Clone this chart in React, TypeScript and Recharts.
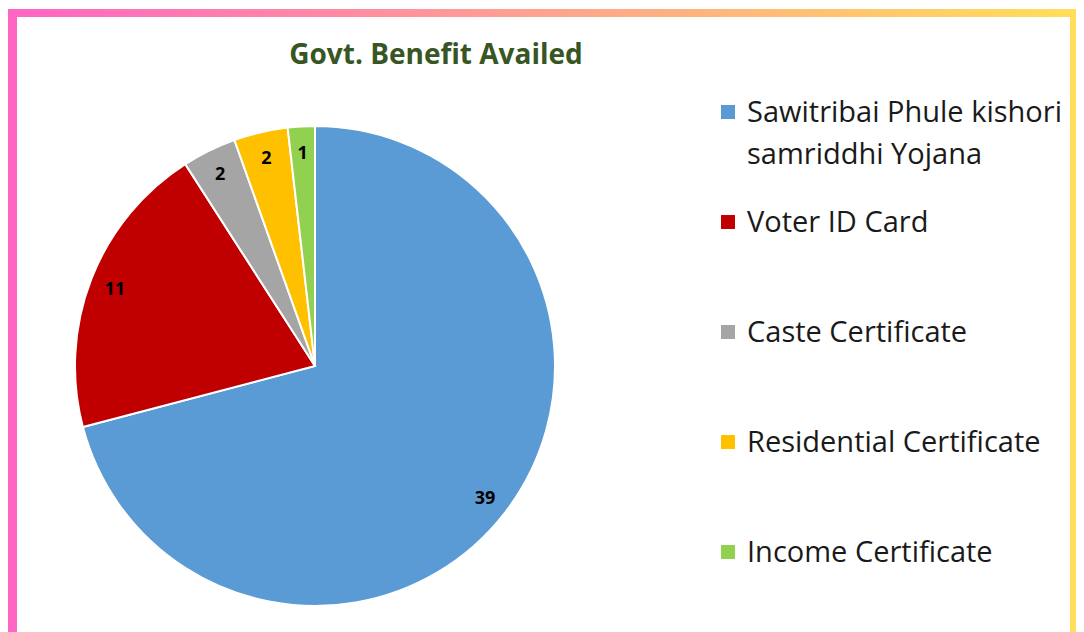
import React from "react";
import { PieChart, Pie, Cell, Legend } from "recharts";

const categories = [
  "Sawitribai Phule kishori samriddhi Yojana",
  "Voter ID Card",
  "Caste Certificate",
  "Residential Certificate",
  "Income Certificate",
];
const values = [39, 11, 2, 2, 1];
const colors = ["#5B9BD5", "#C00000", "#A5A5A5", "#FFC000", "#92D050"];

const data = categories.map((name, i) => ({ name, value: values[i] }));

const FONT = "'Open Sans', 'DejaVu Sans', sans-serif";
const RAD = Math.PI / 180;

const renderLabel = (props: any) => {
  const { cx, cy, midAngle, outerRadius, value } = props;
  const r = outerRadius * 0.895;
  const x = cx + r * Math.cos(-midAngle * RAD);
  const y = cy + r * Math.sin(-midAngle * RAD);
  return (
    <text
      x={x}
      y={y}
      fill="#000"
      textAnchor="middle"
      dominantBaseline="central"
      fontFamily={FONT}
      fontWeight={700}
      fontSize={18}
    >
      {value}
    </text>
  );
};

// legend keeps the data order (Recharts would sort it by name)
const renderLegend = () => (
  <div style={{ fontFamily: FONT }}>
    {categories.map((name, i) => (
      <div key={`leg-${i}`} style={{ display: "flex", alignItems: "flex-start", height: 110 }}>
        <span
          style={{
            width: 14,
            height: 14,
            marginTop: 15,
            marginRight: 12,
            background: colors[i],
            flex: "0 0 auto",
          }}
        />
        <span style={{ fontSize: 29, lineHeight: "42px", color: "#1a1a1a", width: 335 }}>{name}</span>
      </div>
    ))}
  </div>
);

export default function App() {
  return (
    <div style={{ position: "relative", width: 1076, height: 624, overflow: "hidden", background: "#fff" }}>
      <div
        style={{
          position: "absolute",
          left: 0,
          top: 1,
          width: 1071,
          height: 660,
          boxSizing: "border-box",
          borderStyle: "solid",
          borderWidth: "8px 9px 9px 9px",
          borderImage: "linear-gradient(to right, #FF66C4, #FFDE59) 1",
        }}
      />
      <div
        style={{
          position: "absolute",
          left: 228,
          top: 31,
          width: 400,
          textAlign: "center",
          fontFamily: FONT,
          fontWeight: 700,
          fontSize: 28,
          lineHeight: "28px",
          color: "#375623",
        }}
      >
        Govt. Benefit Availed
      </div>
      <div style={{ position: "absolute", left: 0, top: 0 }}>
        <PieChart width={1060} height={624}>
          <Pie
            data={data}
            dataKey="value"
            nameKey="name"
            cx={302}
            cy={353}
            outerRadius={240}
            startAngle={90}
            endAngle={-270}
            stroke="#fff"
            strokeWidth={2}
            label={renderLabel}
            labelLine={false}
            isAnimationActive={false}
          >
            {data.map((d, i) => (
              <Cell key={`cell-${i}`} fill={colors[i]} />
            ))}
          </Pie>
          <Legend
            content={renderLegend}
            layout="vertical"
            verticalAlign="top"
            align="right"
            wrapperStyle={{ position: "absolute", left: 713, top: 82, width: 360 }}
          />
        </PieChart>
      </div>
    </div>
  );
}
